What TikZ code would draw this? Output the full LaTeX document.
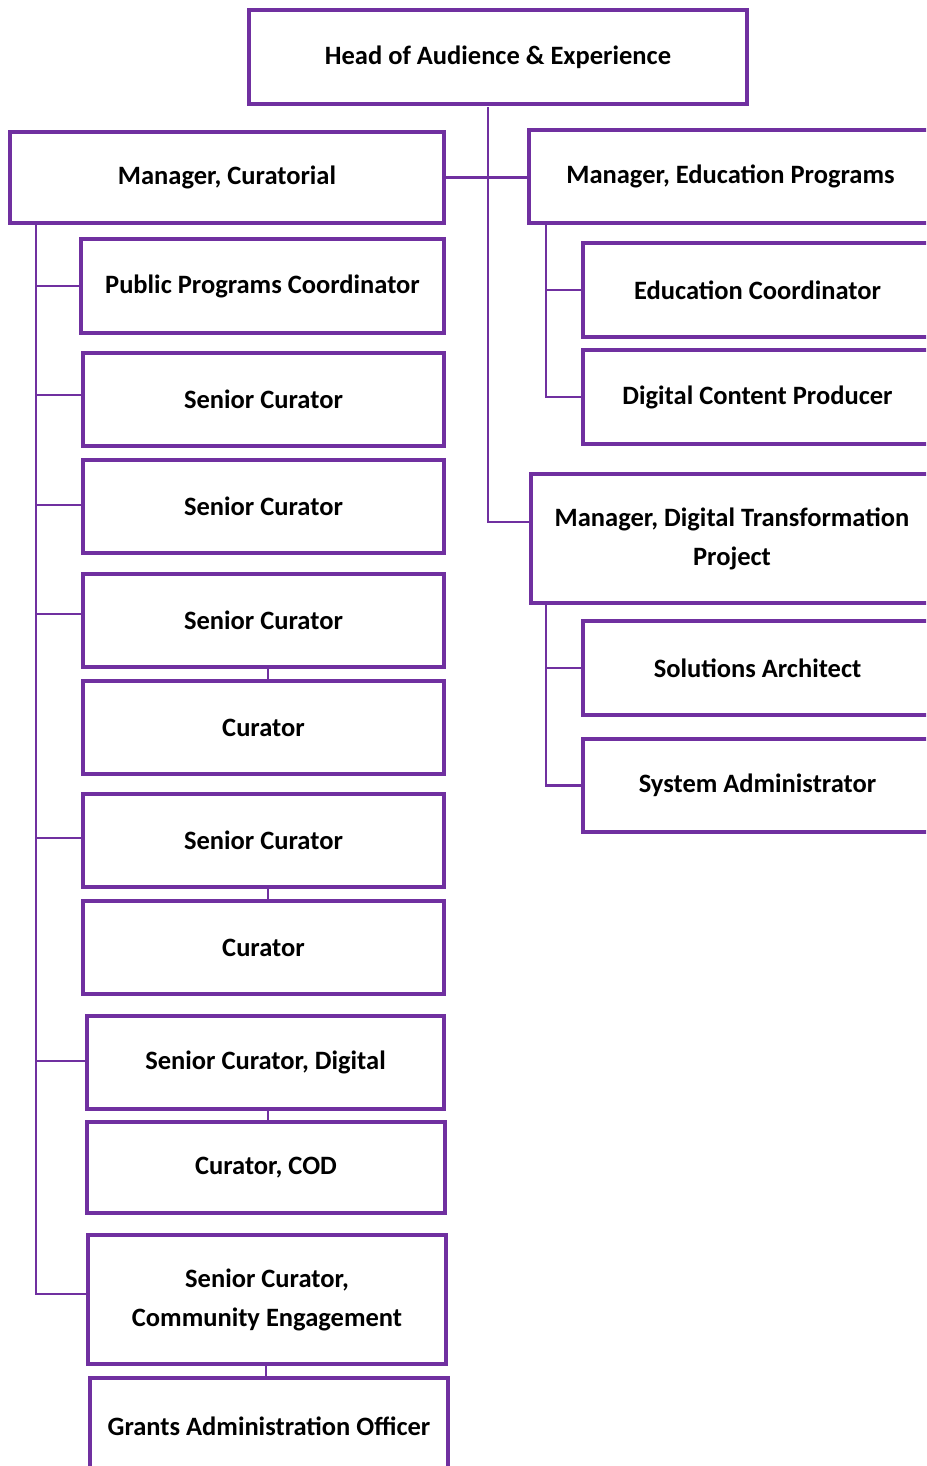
\documentclass[tikz,border=0pt]{standalone}
\usepackage{fontspec}
\setmainfont{Carlito}
\usetikzlibrary{calc}
\definecolor{purp}{RGB}{112,48,160}
\begin{document}
\begin{tikzpicture}[x=1pt,y=-1pt,
  box/.style={draw=purp, line width=3.2pt, fill=white, outer sep=0pt, inner sep=0pt,
    align=center, font=\fontsize{26.5}{39}\selectfont\bfseries},
  conn/.style={draw=purp, line width=2.3pt}]
\useasboundingbox (0,0) rectangle (926,1466);
\clip (0,0) rectangle (926,1466);
% top
\node[box, minimum width=498pt, minimum height=94pt] (head) at (498,57) {Head of Audience \& Experience};
\node[box, minimum width=434pt, minimum height=91pt] (mc) at (227,177.5) {Manager, Curatorial};
\node[box, minimum width=403pt, minimum height=93pt] (me) at (730.5,176.5) {Manager, Education Programs};
\node[box, minimum width=349pt, minimum height=94pt] (ec) at (757.5,290) {Education Coordinator};
\node[box, minimum width=349pt, minimum height=94pt] (dcp) at (757.5,397) {Digital Content Producer};
\node[box, minimum width=402pt, minimum height=129pt] (md) at (732,538.5) {Manager, Digital Transformation\\Project};
\node[box, minimum width=349pt, minimum height=94pt] (sa) at (757.5,668) {Solutions Architect};
\node[box, minimum width=349pt, minimum height=93pt] (sadm) at (757.5,785.5) {System Administrator};
% left
\node[box, minimum width=363pt, minimum height=94pt] (ppc) at (262.5,286) {Public Programs Coordinator};
\node[box, minimum width=361pt, minimum height=93pt] (sc1) at (263.5,399.5) {Senior Curator};
\node[box, minimum width=361pt, minimum height=93pt] (sc2) at (263.5,506.5) {Senior Curator};
\node[box, minimum width=361pt, minimum height=93pt] (sc3) at (263.5,620.5) {Senior Curator};
\node[box, minimum width=361pt, minimum height=93pt] (cu1) at (263.5,727.5) {Curator};
\node[box, minimum width=361pt, minimum height=93pt] (sc4) at (263.5,840.5) {Senior Curator};
\node[box, minimum width=361pt, minimum height=93pt] (cu2) at (263.5,947.5) {Curator};
\node[box, minimum width=357pt, minimum height=93pt] (scd) at (265.5,1062.5) {Senior Curator, Digital};
\node[box, minimum width=358pt, minimum height=91pt] (cod) at (266,1167.5) {Curator, COD};
\node[box, minimum width=358pt, minimum height=129pt] (scc) at (267,1299.5) {Senior Curator,\\Community Engagement};
\node[box, minimum width=358pt, minimum height=96pt] (gao) at (269,1426) {Grants Administration Officer};
% connectors: head
\coordinate (T) at ($(head.south)+(-10,3)$);
\draw[conn] (T) |- ([yshift=16.5pt]md.west);
\draw[conn] (mc.east) -- (mc.east -| me.west);
% education
\coordinate (E) at ($(me.south west)+(17,0)$);
\draw[conn] (E) |- (dcp.west);
\draw[conn] (ec.west -| E) -- (ec.west);
% digital
\coordinate (D) at ($(md.south west)+(15,0)$);
\draw[conn] (D) |- (sadm.west);
\draw[conn] (sa.west -| D) -- (sa.west);
% curatorial trunk
\coordinate (L) at ($(mc.south west)+(26,0)$);
\draw[conn] (L) |- ([yshift=5.5pt]scc.west);
\draw[conn] (ppc.west -| L) -- (ppc.west);
\draw[conn] ([yshift=4.5pt]sc1.west -| L) -- ([yshift=4.5pt]sc1.west);
\draw[conn] ([yshift=1.5pt]sc2.west -| L) -- ([yshift=1.5pt]sc2.west);
\draw[conn] ([yshift=6.5pt]sc3.west -| L) -- ([yshift=6.5pt]sc3.west);
\draw[conn] ([yshift=2.5pt]sc4.west -| L) -- ([yshift=2.5pt]sc4.west);
\draw[conn] ([yshift=1.5pt]scd.west -| L) -- ([yshift=1.5pt]scd.west);
% sub-links
\draw[conn] ([xshift=4.5pt]sc3.south) -- ([xshift=4.5pt]sc3.south |- cu1.north);
\draw[conn] ([xshift=4.5pt]sc4.south) -- ([xshift=4.5pt]sc4.south |- cu2.north);
\draw[conn] ([xshift=2.5pt]scd.south) -- ([xshift=2.5pt]scd.south |- cod.north);
\draw[conn] ([xshift=-1pt]scc.south) -- ([xshift=-1pt]scc.south |- gao.north);
\end{tikzpicture}
\end{document}
